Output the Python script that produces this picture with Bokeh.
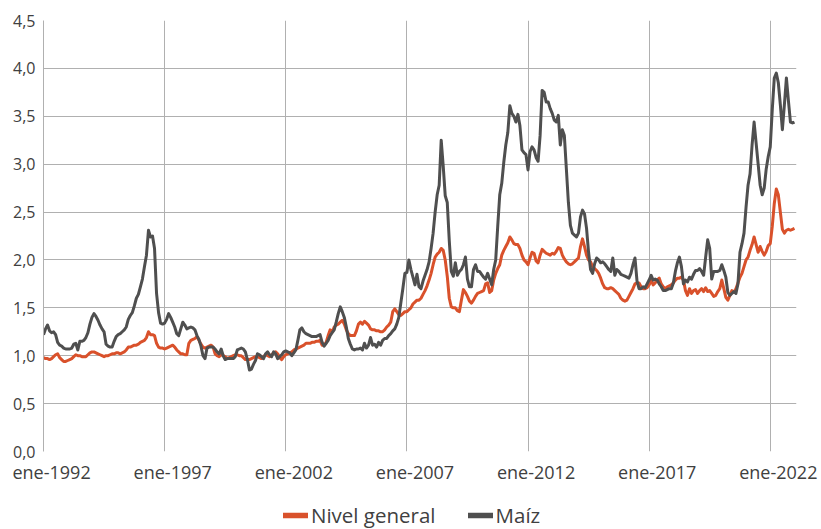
from bokeh.plotting import figure
from bokeh.layouts import column
from bokeh.models import FixedTicker, Legend, LegendItem, Range1d, ColumnDataSource
from bokeh.embed import file_html
from bokeh.resources import INLINE

# Monthly index values, ene-1992 ... ene-2023
nivel_general = [
    0.98, 0.97, 0.97, 0.96, 0.97, 0.99, 1.01, 1.02, 0.98, 0.96, 0.94, 0.94,  # 1992
    0.95, 0.96, 0.97, 0.99, 1.01, 1.00, 1.00, 0.99, 0.99, 0.99, 1.01, 1.03,  # 1993
    1.04, 1.04, 1.03, 1.02, 1.01, 1.00, 0.99, 1.00, 1.00, 1.01, 1.02, 1.02,  # 1994
    1.03, 1.03, 1.02, 1.03, 1.04, 1.06, 1.09, 1.09, 1.10, 1.11, 1.11, 1.12,  # 1995
    1.14, 1.15, 1.16, 1.19, 1.25, 1.22, 1.22, 1.21, 1.13, 1.09, 1.08, 1.08,  # 1996
    1.07, 1.08, 1.09, 1.10, 1.11, 1.09, 1.06, 1.04, 1.02, 1.02, 1.01, 1.01,  # 1997
    1.13, 1.16, 1.17, 1.18, 1.20, 1.16, 1.12, 1.09, 1.08, 1.09, 1.10, 1.11,  # 1998
    1.09, 1.02, 1.00, 0.99, 1.01, 1.00, 0.99, 0.97, 0.98, 0.99, 1.00, 1.01,  # 1999
    1.01, 1.00, 1.00, 0.98, 0.96, 0.96, 0.96, 0.97, 0.98, 0.99, 0.99, 0.98,  # 2000
    0.97, 0.99, 1.01, 1.00, 0.99, 1.01, 1.03, 1.04, 1.02, 0.98, 0.96, 0.99,  # 2001
    1.01, 1.02, 1.03, 1.04, 1.06, 1.07, 1.08, 1.09, 1.10, 1.11, 1.13, 1.13,  # 2002
    1.13, 1.14, 1.14, 1.15, 1.15, 1.16, 1.11, 1.11, 1.14, 1.21, 1.27, 1.25,  # 2003
    1.30, 1.32, 1.33, 1.35, 1.37, 1.33, 1.27, 1.23, 1.21, 1.21, 1.21, 1.26,  # 2004
    1.33, 1.35, 1.33, 1.36, 1.34, 1.32, 1.28, 1.27, 1.27, 1.26, 1.26, 1.25,  # 2005
    1.25, 1.27, 1.30, 1.32, 1.35, 1.46, 1.49, 1.46, 1.43, 1.42, 1.44, 1.46,  # 2006
    1.46, 1.48, 1.50, 1.54, 1.56, 1.58, 1.58, 1.60, 1.64, 1.68, 1.73, 1.79,  # 2007
    1.86, 1.95, 2.03, 2.06, 2.08, 2.12, 2.10, 2.00, 1.83, 1.60, 1.51, 1.50,  # 2008
    1.50, 1.47, 1.46, 1.58, 1.69, 1.66, 1.62, 1.57, 1.55, 1.58, 1.62, 1.65,  # 2009
    1.66, 1.67, 1.68, 1.75, 1.76, 1.66, 1.68, 1.79, 1.86, 1.91, 1.95, 2.05,  # 2010
    2.10, 2.14, 2.18, 2.24, 2.21, 2.17, 2.16, 2.16, 2.12, 2.05, 2.00, 1.98,  # 2011
    1.95, 2.02, 2.08, 2.07, 1.99, 1.97, 2.05, 2.11, 2.09, 2.07, 2.06, 2.05,  # 2012
    2.07, 2.06, 2.09, 2.13, 2.12, 2.05, 2.01, 1.98, 1.96, 1.95, 1.96, 1.98,  # 2013
    2.00, 2.02, 2.14, 2.22, 2.14, 2.05, 2.00, 1.98, 1.93, 1.91, 1.89, 1.86,  # 2014
    1.81, 1.75, 1.71, 1.70, 1.70, 1.71, 1.70, 1.68, 1.66, 1.64, 1.60, 1.58,  # 2015
    1.57, 1.58, 1.62, 1.66, 1.70, 1.75, 1.76, 1.76, 1.72, 1.70, 1.70, 1.71,  # 2016
    1.74, 1.79, 1.74, 1.76, 1.79, 1.81, 1.75, 1.72, 1.70, 1.72, 1.73, 1.74,  # 2017
    1.76, 1.79, 1.81, 1.81, 1.82, 1.79, 1.68, 1.63, 1.70, 1.65, 1.68, 1.69,  # 2018
    1.65, 1.68, 1.70, 1.67, 1.71, 1.67, 1.68, 1.65, 1.62, 1.63, 1.67, 1.70,  # 2019
    1.79, 1.70, 1.61, 1.58, 1.63, 1.68, 1.66, 1.70, 1.76, 1.82, 1.86, 1.93,  # 2020
    2.00, 2.03, 2.10, 2.16, 2.24, 2.16, 2.08, 2.14, 2.09, 2.05, 2.09, 2.15,  # 2021
    2.17, 2.35, 2.59, 2.74, 2.68, 2.50, 2.32, 2.28, 2.31, 2.32, 2.31, 2.32,  # 2022
    2.33,                                                                    # 2023
]

maiz = [
    1.22, 1.28, 1.32, 1.26, 1.24, 1.25, 1.22, 1.14, 1.11, 1.10, 1.08, 1.07,  # 1992
    1.07, 1.07, 1.08, 1.12, 1.13, 1.06, 1.15, 1.15, 1.16, 1.19, 1.24, 1.33,  # 1993
    1.40, 1.44, 1.41, 1.37, 1.32, 1.28, 1.25, 1.12, 1.10, 1.09, 1.09, 1.15,  # 1994
    1.20, 1.22, 1.23, 1.25, 1.27, 1.30, 1.38, 1.42, 1.45, 1.52, 1.60, 1.64,  # 1995
    1.72, 1.80, 1.93, 2.05, 2.31, 2.24, 2.25, 2.12, 1.65, 1.45, 1.34, 1.33,  # 1996
    1.34, 1.38, 1.44, 1.40, 1.35, 1.30, 1.23, 1.21, 1.28, 1.35, 1.32, 1.28,  # 1997
    1.29, 1.30, 1.29, 1.27, 1.21, 1.17, 1.10, 1.00, 0.97, 1.08, 1.09, 1.09,  # 1998
    1.09, 1.07, 1.04, 1.02, 1.07, 1.00, 0.96, 0.97, 0.97, 0.97, 0.97, 0.99,  # 1999
    1.06, 1.07, 1.08, 1.07, 1.04, 0.96, 0.85, 0.86, 0.91, 0.95, 1.02, 1.01,  # 2000
    0.99, 0.97, 1.02, 1.04, 1.01, 0.99, 1.04, 1.02, 0.97, 0.99, 1.01, 1.04,  # 2001
    1.05, 1.04, 1.03, 1.00, 1.03, 1.06, 1.16, 1.27, 1.29, 1.25, 1.23, 1.22,  # 2002
    1.21, 1.20, 1.20, 1.20, 1.21, 1.22, 1.14, 1.10, 1.13, 1.16, 1.21, 1.24,  # 2003
    1.27, 1.35, 1.44, 1.51, 1.46, 1.40, 1.30, 1.18, 1.12, 1.07, 1.06, 1.07,  # 2004
    1.07, 1.08, 1.06, 1.13, 1.08, 1.11, 1.19, 1.11, 1.12, 1.09, 1.14, 1.11,  # 2005
    1.16, 1.18, 1.18, 1.21, 1.23, 1.26, 1.28, 1.33, 1.40, 1.55, 1.70, 1.86,  # 2006
    1.87, 2.00, 1.90, 1.82, 1.74, 1.85, 1.72, 1.70, 1.78, 1.84, 1.90, 1.98,  # 2007
    2.12, 2.28, 2.50, 2.68, 2.78, 3.25, 2.98, 2.67, 2.60, 2.20, 1.88, 1.83,  # 2008
    1.97, 1.84, 1.88, 1.90, 1.95, 2.03, 1.80, 1.72, 1.72, 1.90, 1.95, 1.88,  # 2009
    1.88, 1.85, 1.82, 1.80, 1.86, 1.80, 1.74, 1.90, 2.00, 2.35, 2.68, 2.80,  # 2010
    3.02, 3.20, 3.33, 3.61, 3.53, 3.50, 3.44, 3.52, 3.40, 3.15, 3.12, 3.10,  # 2011
    2.94, 3.13, 3.18, 3.15, 3.07, 3.03, 3.30, 3.77, 3.75, 3.65, 3.65, 3.58,  # 2012
    3.53, 3.46, 3.44, 3.51, 3.20, 3.36, 3.30, 2.95, 2.60, 2.36, 2.28, 2.26,  # 2013
    2.24, 2.28, 2.45, 2.52, 2.48, 2.33, 2.08, 1.90, 1.86, 1.96, 2.02, 2.00,  # 2014
    1.97, 1.98, 1.96, 1.93, 1.90, 1.88, 2.02, 1.84, 1.90, 1.88, 1.85, 1.84,  # 2015
    1.83, 1.82, 1.81, 1.86, 1.95, 2.02, 1.78, 1.70, 1.70, 1.72, 1.71, 1.75,  # 2016
    1.79, 1.84, 1.79, 1.80, 1.79, 1.75, 1.72, 1.68, 1.68, 1.69, 1.70, 1.70,  # 2017
    1.76, 1.88, 1.97, 2.03, 1.93, 1.75, 1.79, 1.77, 1.82, 1.80, 1.85, 1.89,  # 2018
    1.89, 1.91, 1.88, 1.84, 2.03, 2.21, 2.12, 1.80, 1.88, 1.88, 1.88, 1.89,  # 2019
    1.95, 1.89, 1.82, 1.66, 1.63, 1.65, 1.67, 1.65, 1.75, 2.08, 2.17, 2.28,  # 2020
    2.55, 2.78, 2.90, 3.20, 3.44, 3.22, 3.00, 2.78, 2.68, 2.75, 2.95, 3.08,  # 2021
    3.18, 3.57, 3.90, 3.95, 3.85, 3.62, 3.36, 3.62, 3.90, 3.66, 3.44, 3.43,  # 2022
    3.44,                                                                    # 2023
]

x_tick_labels = ["ene-1992", "ene-1997", "ene-2002", "ene-2007",
                 "ene-2012", "ene-2017", "ene-2022"]
y_ticks = [0.0, 0.5, 1.0, 1.5, 2.0, 2.5, 3.0, 3.5, 4.0, 4.5]
series_names = ["Nivel general", "Maíz"]

months = list(range(len(maiz)))
src = ColumnDataSource(dict(m=months, nivel=nivel_general, maiz=maiz))

ORANGE = "#D9512B"
GRAY = "#4F4F4F"
GRID = "#B0B0B0"
TXT = "#404040"
FONT = "Open Sans"
W = 821

p = figure(width=W, height=488, output_backend="svg", toolbar_location=None,
           x_range=Range1d(0, len(maiz)), y_range=Range1d(0, 4.5),
           min_border_left=43, min_border_right=25, min_border_top=20,
           min_border_bottom=37)
p.outline_line_color = None
p.background_fill_color = "white"

grid_ticks = [12 * 5 * i for i in range(len(x_tick_labels))]
label_ticks = [t + 4 for t in grid_ticks]

p.xaxis.ticker = FixedTicker(ticks=label_ticks)
p.xaxis.major_label_overrides = {t: lab for t, lab in zip(label_ticks, x_tick_labels)}
p.xaxis.axis_line_color = None
p.xaxis.major_tick_line_color = None
p.xaxis.minor_tick_line_color = None
p.xaxis.major_tick_out = 0
p.xaxis.major_tick_in = 0
p.xaxis.minor_tick_out = 0
p.xaxis.minor_tick_in = 0
p.xaxis.major_label_text_font = FONT
p.xaxis.major_label_text_font_size = "18px"
p.xaxis.major_label_text_color = TXT
p.xaxis.major_label_standoff = 8

y_labels = {t: f"{t:.1f}".replace(".", ",") for t in y_ticks}
p.yaxis.ticker = FixedTicker(ticks=y_ticks)
p.yaxis.major_label_overrides = y_labels
p.yaxis.axis_line_color = GRID
p.yaxis.major_tick_line_color = None
p.yaxis.minor_tick_line_color = None
p.yaxis.major_tick_out = 0
p.yaxis.major_tick_in = 0
p.yaxis.minor_tick_out = 0
p.yaxis.minor_tick_in = 0
p.yaxis.major_label_text_font = FONT
p.yaxis.major_label_text_font_size = "16px"
p.yaxis.major_label_text_color = TXT
p.yaxis.major_label_standoff = 8

p.xgrid.ticker = FixedTicker(ticks=grid_ticks)
p.xgrid.grid_line_color = GRID
p.ygrid.ticker = FixedTicker(ticks=y_ticks)
p.ygrid.grid_line_color = GRID

p.line("m", "nivel", source=src, line_color=ORANGE, line_width=3, line_join="round")
p.line("m", "maiz", source=src, line_color=GRAY, line_width=3, line_join="round")

# separate strip for the legend, below the chart (no axes, frame = whole strip)
leg = figure(width=W, height=41, output_backend="svg", toolbar_location=None,
             x_axis_location=None, y_axis_location=None,
             x_range=Range1d(0, 1), y_range=Range1d(0, 1),
             min_border=0, min_border_left=0, min_border_right=0,
             min_border_top=0, min_border_bottom=0)
leg.outline_line_color = None
leg.grid.visible = False
# one-point sources: a single point draws no line, but gives the key its style
key_src1 = ColumnDataSource(dict(m=months[:1], v=nivel_general[:1]))
key_src2 = ColumnDataSource(dict(m=months[:1], v=maiz[:1]))
k1 = leg.line("m", "v", source=key_src1, line_color=ORANGE, line_width=5.5,
              line_cap="round", line_alpha=1.0)
k2 = leg.line("m", "v", source=key_src2, line_color=GRAY, line_width=5.5,
              line_cap="round", line_alpha=1.0)

legend = Legend(items=[LegendItem(label=series_names[0], renderers=[k1]),
                       LegendItem(label=series_names[1], renderers=[k2])],
                orientation="horizontal", location=(240, 0),
                label_text_font=FONT, label_text_font_size="20.5px",
                label_text_color=TXT, glyph_width=25, glyph_height=20,
                label_standoff=3, spacing=32, padding=0, margin=0,
                border_line_color=None, background_fill_alpha=0)
leg.add_layout(legend, "center")

layout = column(p, leg, spacing=0)
open("out.html", "w").write(file_html(layout, INLINE))
